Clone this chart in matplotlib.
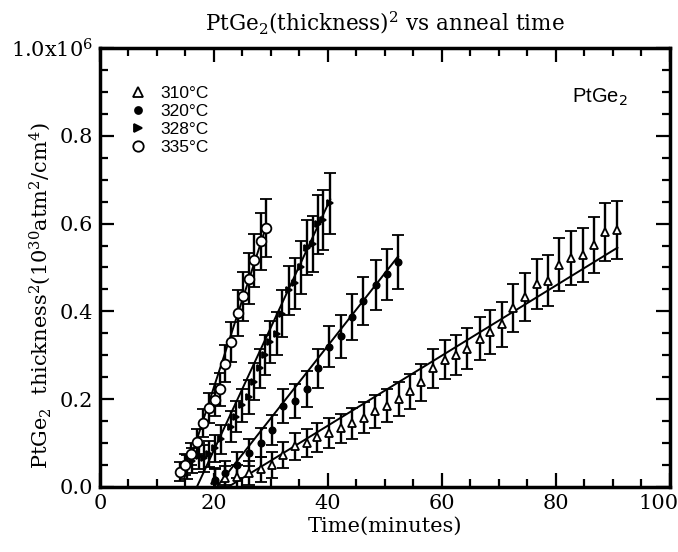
import matplotlib
matplotlib.use("Agg")
import matplotlib.pyplot as plt
import matplotlib.transforms as mtransforms
from matplotlib.lines import Line2D
from matplotlib.ticker import MultipleLocator

# data, thickness^2 in units of 1e6 (10^30 atm^2/cm^4)
t_310 = [20.1, 22.0, 24.1, 26.1, 28.2, 30.1, 32.2, 34.2, 36.3, 38.1, 40.1, 42.3,
         44.3, 46.3, 48.3, 50.4, 52.4, 54.4, 56.4, 58.4, 60.5, 62.5, 64.4, 66.6,
         68.5, 70.5, 72.5, 74.5, 76.6, 78.6, 80.5, 82.6, 84.7, 86.7, 88.7, 90.8]
y_310 = [0.016, 0.020, 0.023, 0.031, 0.040, 0.050, 0.073, 0.092, 0.099, 0.113, 0.122, 0.133,
         0.145, 0.158, 0.172, 0.185, 0.200, 0.218, 0.238, 0.270, 0.290, 0.300, 0.315, 0.338,
         0.353, 0.370, 0.408, 0.433, 0.463, 0.470, 0.506, 0.521, 0.528, 0.552, 0.580, 0.586]
e_310 = [0.026, 0.027, 0.027, 0.027, 0.028, 0.029, 0.030, 0.031, 0.032, 0.033, 0.034, 0.034,
         0.035, 0.036, 0.037, 0.038, 0.039, 0.040, 0.042, 0.044, 0.045, 0.046, 0.047, 0.049,
         0.050, 0.051, 0.054, 0.055, 0.057, 0.058, 0.060, 0.061, 0.062, 0.064, 0.066, 0.066]

t_320 = [20.1, 22.0, 24.1, 26.1, 28.2, 30.1, 32.2, 34.2, 36.3, 38.2, 40.2, 42.3, 44.2,
         46.2, 48.4, 50.4, 52.3]
y_320 = [0.015, 0.031, 0.050, 0.078, 0.101, 0.130, 0.184, 0.196, 0.222, 0.270, 0.319, 0.343,
         0.387, 0.423, 0.461, 0.484, 0.513]
e_320 = [0.026, 0.027, 0.029, 0.030, 0.032, 0.034, 0.038, 0.039, 0.041, 0.044, 0.047, 0.049,
         0.052, 0.055, 0.057, 0.059, 0.061]

t_328 = [15.2, 16.2, 17.3, 18.3, 19.2, 20.1, 21.2, 22.9, 23.8, 24.9, 26.1, 27.0, 28.0,
         29.0, 29.9, 31.0, 32.0, 33.2, 34.2, 35.2, 36.3, 37.3, 38.3, 39.2, 40.4]
y_328 = [0.045, 0.060, 0.070, 0.065, 0.075, 0.088, 0.108, 0.137, 0.160, 0.186, 0.204, 0.240,
         0.270, 0.300, 0.330, 0.349, 0.395, 0.448, 0.464, 0.500, 0.545, 0.554, 0.598, 0.608, 0.646]
e_328 = [0.028, 0.029, 0.030, 0.030, 0.030, 0.031, 0.033, 0.035, 0.036, 0.038, 0.039, 0.042,
         0.044, 0.046, 0.048, 0.049, 0.053, 0.056, 0.058, 0.060, 0.063, 0.064, 0.067, 0.068, 0.070]

t_335 = [14.0, 15.0, 16.0, 17.0, 18.0, 19.1, 20.1, 21.0, 22.0, 23.0, 24.2, 25.1, 26.1,
         27.1, 28.2, 29.2]
y_335 = [0.035, 0.050, 0.075, 0.103, 0.146, 0.179, 0.198, 0.222, 0.281, 0.330, 0.396, 0.434,
         0.474, 0.516, 0.560, 0.590]
e_335 = [0.022, 0.024, 0.026, 0.028, 0.032, 0.034, 0.036, 0.038, 0.042, 0.046, 0.052, 0.055,
         0.058, 0.061, 0.065, 0.067]

# straight-line fits (start/end points)
fit_310_x, fit_310_y = [22.5, 90.8], [0.0, 0.545]
fit_320_x, fit_320_y = [20.5, 52.3], [0.0, 0.525]
fit_328_x, fit_328_y = [17.0, 40.4], [0.0, 0.655]
fit_335_x, fit_335_y = [14.8, 29.2], [0.02, 0.595]

labels = ["310°C", "320°C", "328°C", "335°C"]
yticks = [0.0, 0.2, 0.4, 0.6, 0.8, 1.0]
yticklabels = ["0.0", "0.2", "0.4", "0.6", "0.8", r"1.0x10$^6$"]
xticks = [0, 20, 40, 60, 80, 100]

serif = "DejaVu Serif"
sans = "Liberation Sans"
plt.rcParams["mathtext.fontset"] = "dejavuserif"

fig = plt.figure(figsize=(6.78, 5.52), dpi=100)
ax = fig.add_axes([0.1475, 0.118, 0.8405, 0.795])

series = [
    (t_310, y_310, e_310, fit_310_x, fit_310_y, "^", "white", 6),
    (t_320, y_320, e_320, fit_320_x, fit_320_y, "o", "black", 4.5),
    (t_328, y_328, e_328, fit_328_x, fit_328_y, ">", "black", 5),
    (t_335, y_335, e_335, fit_335_x, fit_335_y, "o", "white", 7),
]
handles = []
for (t, y, e, fx, fy, m, fc, ms), lab in zip(series, labels):
    ax.plot(fx, fy, "-", color="black", lw=1.4, zorder=2)
    ax.errorbar(t, y, yerr=e, fmt=m, mfc=fc, mec="black", ms=ms, mew=1.3,
                ecolor="black", elinewidth=1.7, capsize=4, capthick=1.7, zorder=3)
    handles.append(Line2D([], [], ls="none", marker=m, mfc=fc, mec="black",
                          ms=ms + 0.5, mew=1.3, label=lab))

ax.set_xlim(0, 100)
ax.set_ylim(0, 1.0)
ax.set_xticks(xticks)
ax.set_yticks(yticks)
ax.set_yticklabels(yticklabels)
ax.xaxis.set_minor_locator(MultipleLocator(5))
ax.yaxis.set_minor_locator(MultipleLocator(0.05))
ax.tick_params(which="both", direction="in", top=True, right=True, width=1.6,
               labelsize=15)
ax.tick_params(which="major", length=10, pad=5)
ax.tick_params(which="minor", length=6)
for lab in ax.get_xticklabels() + ax.get_yticklabels():
    lab.set_family(serif)
for sp in ax.spines.values():
    sp.set_linewidth(2.5)

# last x label sits against the right edge of the figure
last = ax.get_xticklabels()[-1]
last.set_horizontalalignment("right")
last.set_transform(last.get_transform() +
                   mtransforms.ScaledTranslation(9 / 100, 0, fig.dpi_scale_trans))

ax.set_xlabel("Time(minutes)", family=serif, fontsize=15, labelpad=3)
ax.set_ylabel(r"PtGe$_2$  thickness$^2$(10$^{30}$atm$^2$/cm$^4$)", family=serif,
              fontsize=15)
ax.yaxis.set_label_coords(-0.083, 0.435)
ax.set_title(r"PtGe$_2$(thickness)$^2$ vs anneal time", family=serif, fontsize=15.5,
             pad=13)

ax.text(0.926, 0.888, r"PtGe$_2$", transform=ax.transAxes, ha="right", va="center",
        family=sans, fontsize=14.5, math_fontfamily="dejavusans")

leg = ax.legend(handles=handles, loc="upper left", bbox_to_anchor=(0.03, 0.942),
                frameon=False, prop={"family": sans, "size": 12.5}, handlelength=1.0,
                handletextpad=0.8, labelspacing=0.17, borderpad=0.2)

fig.savefig("out.png", dpi=100)
